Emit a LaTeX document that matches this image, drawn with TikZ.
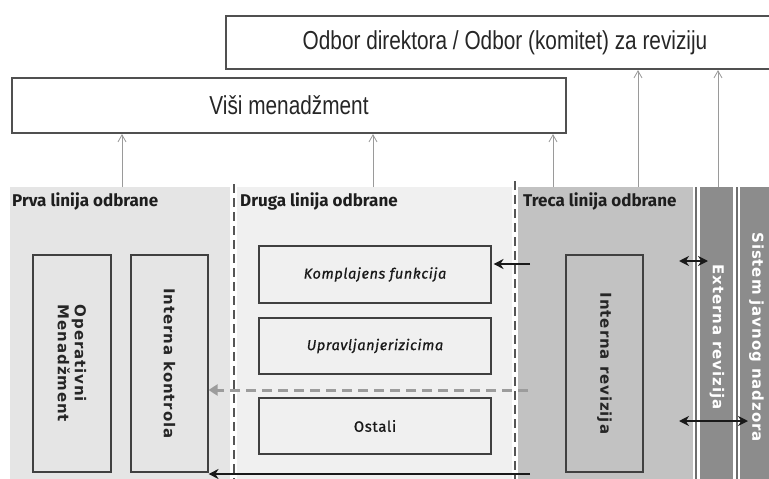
\documentclass[tikz,border=0pt]{standalone}
\usepackage{fontspec}
\setmainfont{Liberation Sans}
\newfontfamily\narrowfont[FakeStretch=0.8]{Liberation Sans}
\newfontfamily\titlefont{Fira Sans}
\newfontfamily\boxfont[LetterSpace=4,FakeBold=0.8]{Fira Sans}
\newfontfamily\vfont[LetterSpace=6]{DejaVu Sans}
\usetikzlibrary{arrows.meta}
\definecolor{pone}{HTML}{E5E5E5}
\definecolor{ptwo}{HTML}{F0F0F0}
\definecolor{pthree}{HTML}{C2C2C2}
\definecolor{pext}{HTML}{8C8C8C}
\definecolor{edgec}{HTML}{404040}
\definecolor{boxgray}{HTML}{505050}
\definecolor{arrgray}{HTML}{9A9A9A}
\definecolor{dashgray}{HTML}{555555}
\definecolor{gdashc}{HTML}{9C9C9C}
\definecolor{sepc}{HTML}{6E6E6E}
\definecolor{ttlc}{HTML}{1E1E1E}
\begin{document}
\begin{tikzpicture}[x=1pt,y=-1pt,
  panel/.style={draw=none, inner sep=0pt, anchor=north west},
  topbox/.style={draw=boxgray, line width=2.2pt, fill=white, inner sep=0pt, text=black!85,
    font=\narrowfont\fontsize{26}{30}\selectfont},
  ibox/.style={draw=edgec, line width=1.1pt, inner sep=0pt, text=black!90},
  vtext/.style={rotate=-90, font=\vfont\bfseries\fontsize{15}{17}\selectfont, align=left, inner sep=0pt, text=black!85},
  ttl/.style={font=\titlefont\bfseries\fontsize{17}{20}\selectfont, anchor=base west, inner sep=0pt, text=ttlc},
  uparrow/.style={draw=arrgray, line width=0.8pt, -{Straight Barb[length=7pt,width=8pt]}},
  blk/.style={draw=black!90, line width=2.4pt, -{Stealth[length=10pt,width=10pt]}},
  dbl/.style={draw=black!90, line width=2.4pt, {Stealth[length=10pt,width=10pt]}-{Stealth[length=10pt,width=10pt]}},
  vdash/.style={draw=dashgray, line width=2pt, dash pattern=on 9pt off 5pt},
  gdash/.style={draw=gdashc, line width=3pt, dash pattern=on 10pt off 6pt, -{Triangle[length=9pt,width=11pt]}},
  sepline/.style={draw=sepc, line width=2pt},
]
\useasboundingbox (0,0) rectangle (769,479);
\fill[white] (0,0) rectangle (769,479);

% top boxes
\node[topbox, minimum width=558pt, minimum height=53pt] (odbor) at (505,42.5) {Odbor direktora / Odbor (komitet) za reviziju};
\node[topbox, minimum width=554pt, minimum height=55pt] (vm) at (289,105.5) {Viši menadžment};

% panels
\node[panel, fill=pone, minimum width=220pt, minimum height=292pt] (p1) at (10,187) {};
\node[panel, fill=ptwo, minimum width=275pt, minimum height=292pt] (p2) at (237,187) {};
\node[panel, fill=pthree, minimum width=175pt, minimum height=292pt] (p3) at (518,187) {};
\node[panel, fill=pext, minimum width=33pt, minimum height=292pt] (ext) at (700,187) {};
\node[panel, fill=pext, minimum width=32pt, minimum height=292pt] (sys) at (740,187) {};

\draw[sepline] ([xshift=3pt]p3.north east) -- ([xshift=3pt]p3.south east);
\draw[sepline] ([xshift=3.5pt]ext.north east) -- ([xshift=3.5pt]ext.south east);

\draw[vdash] ([xshift=3.5pt,yshift=3pt]p1.north east) -- ([xshift=3.5pt]p1.south east);
\draw[vdash] ([xshift=3pt,yshift=6pt]p2.north east) -- ([xshift=3pt]p2.south east);

% titles
\node[ttl] (t1) at (12,206) {Prva linija odbrane};
\node[ttl] (t2) at (240,206) {Druga linija odbrane};
\node[ttl] (t3) at (523,206) {Treca linija odbrane};

% inner boxes
\node[ibox, minimum width=78pt, minimum height=217pt] (opm) at (72,363.5) {};
\node[vtext] (opmt) at (opm.center) {Operativni\\Menadžment};
\node[ibox, minimum width=77pt, minimum height=217pt] (ik) at (169.5,363.5) {};
\node[vtext] (ikt) at (ik.center) {Interna kontrola};
\node[ibox, minimum width=77pt, minimum height=217pt] (ir) at (604.5,363.5) {};
\node[vtext] (irt) at (ir.center) {Interna revizija};

\node[ibox, minimum width=232pt, minimum height=57pt, font=\boxfont\itshape\fontsize{14.5}{17}\selectfont] (komp) at (375,274.5) {Komplajens funkcija};
\node[ibox, minimum width=232pt, minimum height=56pt, font=\boxfont\itshape\fontsize{14.5}{17}\selectfont] (upr) at (375,346) {Upravljanjerizicima};
\node[ibox, minimum width=232pt, minimum height=56pt, font=\boxfont\fontsize{15}{17}\selectfont] (ost) at (375,426) {Ostali};

\node[vtext, text=white] (extt) at (717,337) {Externa revizija};
\node[vtext, text=white] (syst) at (756.5,337) {Sistem javnog nadzora};

% gray up arrows
\draw[uparrow] (p1.north -| 122,0) -- (vm.south -| 122,0);
\draw[uparrow] (p2.north -| 373,0) -- (vm.south -| 373,0);
\draw[uparrow] (p3.north -| 553,0) -- (vm.south -| 553,0);
\draw[uparrow] (p3.north -| 638,0) -- (odbor.south -| 638,0);
\draw[uparrow] (ext.north -| 718,0) -- (odbor.south -| 718,0);

% black arrows
\coordinate (ka) at (530,264);
\draw[blk, shorten >=2pt] (ka) -- (ka -| komp.east);
\coordinate (da1) at (679,261);
\coordinate (da2) at (708,261);
\draw[dbl] (da1) -- (da2);
\coordinate (db1) at (679,421);
\coordinate (db2) at (748,421);
\draw[dbl] (db1) -- (db2);
\coordinate (gd) at (528,390);
\draw[gdash] (gd) -- (gd -| ik.east);
\coordinate (bk) at (530,474);
\draw[blk] (bk) -- (bk -| ik.east);
\end{tikzpicture}
\end{document}
